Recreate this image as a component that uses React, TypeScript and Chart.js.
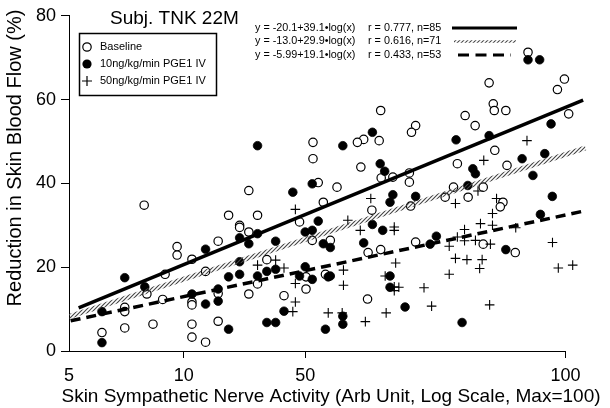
import React, { useEffect, useRef } from 'react';
import { Chart, registerables } from 'chart.js';

Chart.register(...registerables);

// ---------- tick labels ----------
const xTickValues = [5, 10, 20.8, 100];
const xTickLabels = ['5', '10', '50', '100'];
const yTickValues = [0, 20, 40, 60, 80];

// ---------- text ----------
const subjectTitle = 'Subj. TNK 22M';
const xTitle = 'Skin Sympathetic Nerve Activity (Arb Unit, Log Scale, Max=100)';
const yTitle = 'Reduction in Skin Blood Flow (%)';
const seriesLabels = ['Baseline', '10ng/kg/min PGE1 IV', '50ng/kg/min PGE1 IV'];
const equations = ['y = -20.1+39.1\u2022log(x)', 'y = -13.0+29.9\u2022log(x)', 'y = -5.99+19.1\u2022log(x)'];
const rStats = ['r = 0.777, n=85', 'r = 0.616, n=71', 'r = 0.433, n=53'];

// ---------- Baseline (open circles) ----------
const baselineX = [21.8, 21.8, 22.5, 7.87, 14.8, 23.2, 13.1, 15.6, 14.0, 14.0, 14.8, 12.3, 9.6, 9.6, 10.5, 16.5, 20.1, 21.7, 8.93, 11.4,
  23.5, 20.9, 20.9, 15.6, 8.0, 12.3, 14.8, 18.3, 8.8, 10.5, 10.5, 7.0, 7.0, 7.0, 8.3, 10.5, 12.3, 6.1, 10.5, 11.4,
  79.8, 63.1, 99.4, 95.3, 64.7, 65.1, 69.8, 32.8, 54.6, 58.0, 102, 40.5, 39.5, 29.6, 28.5, 32.5, 65.3, 29.1, 52.1, 70.3,
  39.0, 39.0, 35.3, 32.9, 25.2, 50.9, 60.9, 48.4, 55.6, 39.3, 31.1, 68.6, 67.5, 24.2, 40.5, 60.9, 73.9, 30.4, 32.8, 30.3];
const baselineY = [49.8, 45.9, 40.2, 34.8, 38.3, 35.5, 32.4, 32.4, 30.0, 29.5, 28.4, 26.2, 24.9, 22.9, 21.9, 21.8, 30.8, 26.4, 18.3, 19.0,
  18.3, 17.7, 14.8, 16.0, 13.6, 13.7, 13.6, 13.2, 12.3, 11.7, 11.0, 10.4, 9.4, 5.5, 6.4, 6.4, 7.1, 4.4, 3.3, 2.1,
  71.3, 64.0, 64.9, 62.4, 59.0, 57.4, 57.4, 57.4, 56.2, 53.8, 56.6, 53.8, 52.2, 50.5, 49.8, 50.2, 47.9, 43.9, 44.7, 44.3,
  42.5, 40.3, 41.5, 41.3, 39.1, 39.1, 39.1, 36.7, 36.7, 34.6, 33.6, 35.5, 34.4, 26.4, 26.0, 25.5, 23.5, 23.5, 24.2, 12.4];

// ---------- 10ng/kg/min (filled circles) ----------
const pge10X = [15.6, 19.3, 21.7, 22.5, 20.8, 21.7, 14.0, 14.8, 15.6, 17.4, 11.4, 23.2, 7.0, 14.0, 13.1, 14.0, 15.6, 16.5, 17.4, 20.8,
  20.1, 21.7, 23.9, 12.3, 12.3, 10.5, 11.4, 6.1, 18.3, 16.5, 17.4, 13.1, 23.5, 6.1, 7.9,
  79.8, 85.6, 91.7, 63.1, 51.7, 31.2, 26.1, 77.0, 88.3, 82.2, 57.2, 58.1, 32.7, 33.6, 55.5, 35.3, 34.7, 40.5, 92.4, 86.0,
  31.2, 33.2, 29.6, 24.2, 45.9, 44.2, 69.8, 24.2, 34.7, 34.7, 38.0, 26.1, 26.1, 53.6];
const pge10Y = [49.0, 37.9, 39.9, 31.0, 28.4, 28.8, 27.0, 25.6, 28.0, 26.2, 24.3, 25.6, 17.5, 21.3, 17.7, 18.3, 17.9, 19.0, 19.5, 20.1,
  17.9, 17.1, 17.7, 14.8, 11.9, 13.6, 11.2, 9.4, 9.5, 6.8, 6.8, 5.2, 5.2, 2.0, 15.3,
  69.5, 69.5, 54.2, 51.4, 50.4, 52.2, 49.0, 45.9, 47.1, 41.9, 43.5, 42.3, 44.7, 42.9, 39.5, 37.3, 35.5, 36.9, 36.9, 32.6,
  30.2, 28.8, 25.8, 24.7, 27.4, 25.5, 24.2, 17.9, 17.9, 15.2, 10.5, 8.3, 6.4, 6.8];

// ---------- 50ng/kg/min (plus signs) ----------
const pge50X = [19.6, 15.6, 17.4, 18.3, 19.6, 19.6, 19.3, 23.9, 79.3, 61.1, 30.9, 51.5, 59.0, 66.0, 64.4, 26.9, 29.0, 35.6, 35.6, 59.9,
  64.4, 54.4, 74.1, 52.1, 54.4, 49.6, 58.1, 63.6, 51.5, 55.2, 60.5, 59.6, 35.9, 92.5, 95.8, 104.5, 49.6, 26.2, 26.2, 33.7,
  35.6, 36.6, 35.6, 42.6, 44.6, 63.3, 33.9, 26.0, 29.9];
const pge50Y = [33.8, 20.5, 21.7, 19.8, 16.1, 11.7, 9.4, 9.1, 50.2, 45.5, 36.4, 35.2, 38.2, 36.4, 32.8, 31.2, 28.8, 29.6, 28.8, 30.4,
  30.0, 29.0, 29.4, 27.2, 26.3, 25.0, 26.4, 25.5, 22.1, 21.8, 21.8, 19.7, 21.0, 25.9, 19.8, 20.5, 18.3, 19.3, 15.7, 17.9,
  15.3, 15.2, 14.4, 15.1, 10.7, 11.0, 9.1, 9.1, 7.0];

// ---------- regression line end points ----------
const fitBaselineX = [5.3, 111.3];
const fitBaselineY = [10.3, 59.9];
const fitPge10X = [5.0, 112.9];
const fitPge10Y = [8.2, 48.5];
const fitPge50X = [5.05, 111.8];
const fitPge50Y = [7.2, 33.4];

const FONT = "'Liberation Sans', Arial, Helvetica, sans-serif";

const pts = (xs: number[], ys: number[]) => xs.map((x, i) => ({ x, y: ys[i] }));

function makeHatch(ctx: CanvasRenderingContext2D): CanvasPattern | string {
  const c = document.createElement('canvas');
  c.width = 4;
  c.height = 4;
  const g = c.getContext('2d');
  if (!g) return '#777';
  g.strokeStyle = '#444';
  g.lineWidth = 1.1;
  g.beginPath();
  g.moveTo(0, 4); g.lineTo(4, 0);
  g.moveTo(-1, 1); g.lineTo(1, -1);
  g.moveTo(3, 5); g.lineTo(5, 3);
  g.stroke();
  return ctx.createPattern(c, 'repeat') || '#777';
}

export default function App() {
  const ref = useRef<HTMLCanvasElement | null>(null);

  useEffect(() => {
    document.body.style.margin = '0';
    const canvas = ref.current;
    if (!canvas) return;
    const ctx0 = canvas.getContext('2d') as CanvasRenderingContext2D;
    const hatch = makeHatch(ctx0);

    const decor = {
      id: 'decor',
      afterDraw(chart: any) {
        const ctx: CanvasRenderingContext2D = chart.ctx;
        const area = chart.chartArea;
        const xs = chart.scales.x;
        ctx.save();
        // x axis line (only up to 100)
        ctx.strokeStyle = '#000';
        ctx.lineWidth = 1;
        ctx.beginPath();
        ctx.moveTo(area.left, area.bottom + 0.5);
        ctx.lineTo(xs.getPixelForValue(100) + 0.5, area.bottom + 0.5);
        ctx.stroke();

        ctx.fillStyle = '#000';
        // axis titles
        ctx.font = `19px ${FONT}`;
        ctx.textAlign = 'center';
        ctx.textBaseline = 'middle';
        ctx.fillText(xTitle, 331, 397);
        ctx.save();
        ctx.translate(15, 158);
        ctx.rotate(-Math.PI / 2);
        ctx.font = `20px ${FONT}`;
        ctx.fillText(yTitle, 0, 0);
        ctx.restore();

        // subject title
        ctx.font = `19px ${FONT}`;
        ctx.textAlign = 'left';
        ctx.fillText(subjectTitle, 110, 19);

        // legend box
        ctx.lineWidth = 1.5;
        ctx.strokeRect(79.5, 33.5, 137, 62);
        const rows = [47, 64, 81];
        ctx.font = `11px ${FONT}`;
        rows.forEach((ry, i) => {
          ctx.fillText(seriesLabels[i], 100, ry);
        });
        ctx.lineWidth = 1.2;
        ctx.beginPath();
        ctx.arc(87, rows[0], 4.2, 0, Math.PI * 2);
        ctx.fillStyle = '#fff';
        ctx.fill();
        ctx.stroke();
        ctx.fillStyle = '#000';
        ctx.beginPath();
        ctx.arc(87, rows[1], 4.6, 0, Math.PI * 2);
        ctx.fill();
        ctx.beginPath();
        ctx.moveTo(82, rows[2]); ctx.lineTo(92, rows[2]);
        ctx.moveTo(87, rows[2] - 5); ctx.lineTo(87, rows[2] + 5);
        ctx.stroke();

        // regression legend
        const eRows = [28, 41.5, 55];
        ctx.font = `10.8px ${FONT}`;
        eRows.forEach((ry, i) => {
          ctx.fillText(equations[i], 255, ry);
          ctx.fillText(rStats[i], 368, ry);
        });
        ctx.lineCap = 'butt';
        ctx.lineWidth = 3.2;
        ctx.beginPath();
        ctx.moveTo(452, eRows[0]); ctx.lineTo(517, eRows[0]);
        ctx.stroke();
        ctx.strokeStyle = hatch as any;
        ctx.lineWidth = 2.6;
        ctx.beginPath();
        ctx.moveTo(454, eRows[1]); ctx.lineTo(516, eRows[1]);
        ctx.stroke();
        ctx.strokeStyle = '#000';
        ctx.lineWidth = 3.2;
        ctx.setLineDash([11, 6.5]);
        ctx.beginPath();
        ctx.moveTo(458, eRows[2]); ctx.lineTo(511, eRows[2]);
        ctx.stroke();
        ctx.setLineDash([]);
        ctx.restore();
      },
    };

    const chart = new Chart(canvas, {
      type: 'scatter',
      data: {
        datasets: [
          {
            label: 'fit baseline',
            data: pts(fitBaselineX, fitBaselineY),
            showLine: true,
            borderColor: '#000',
            borderWidth: 3.5,
            pointRadius: 0,
          },
          {
            label: 'fit 10',
            data: pts(fitPge10X, fitPge10Y),
            showLine: true,
            borderColor: hatch as any,
            borderWidth: 5,
            pointRadius: 0,
          },
          {
            label: 'fit 50',
            data: pts(fitPge50X, fitPge50Y),
            showLine: true,
            borderColor: '#000',
            borderWidth: 3.5,
            borderDash: [10, 6],
            pointRadius: 0,
          },
          {
            label: seriesLabels[2],
            data: pts(pge50X, pge50Y),
            pointStyle: 'cross',
            pointRadius: 4.8,
            borderColor: '#000',
            borderWidth: 1.1,
          },
          {
            label: seriesLabels[1],
            data: pts(pge10X, pge10Y),
            pointStyle: 'circle',
            pointRadius: 4.3,
            backgroundColor: '#000',
            borderColor: '#000',
            borderWidth: 0.8,
          },
          {
            label: seriesLabels[0],
            data: pts(baselineX, baselineY),
            pointStyle: 'circle',
            pointRadius: 4.2,
            backgroundColor: '#fff',
            borderColor: '#000',
            borderWidth: 1.2,
          },
        ],
      },
      options: {
        animation: false,
        responsive: false,
        devicePixelRatio: 1,
        events: [],
        layout: { padding: { top: 15, right: 20, left: 0, bottom: 0 } },
        plugins: {
          legend: { display: false },
          tooltip: { enabled: false },
          title: { display: false },
        },
        scales: {
          x: {
            type: 'logarithmic',
            min: 5,
            max: 116,
            afterBuildTicks: (s: any) => {
              s.ticks = xTickValues.map((v) => ({ value: v }));
            },
            afterFit: (s: any) => {
              s.height = 57;
            },
            ticks: {
              callback: (_v: any, i: number) => xTickLabels[i] ?? '',
              font: { family: FONT, size: 18 },
              color: '#000',
              padding: 7,
              maxRotation: 0,
              autoSkip: false,
            },
            grid: {
              drawOnChartArea: false,
              drawTicks: true,
              tickLength: 7,
              lineWidth: 1,
              color: (c: any) => (c.index === 0 ? 'rgba(0,0,0,0)' : '#000'),
            },
            border: { display: false },
          },
          y: {
            type: 'linear',
            min: 0,
            max: 80,
            afterBuildTicks: (s: any) => {
              s.ticks = yTickValues.map((v) => ({ value: v }));
            },
            afterFit: (s: any) => {
              s.width = 69;
            },
            ticks: {
              font: { family: FONT, size: 18 },
              color: '#000',
              padding: 5,
            },
            grid: {
              drawOnChartArea: false,
              drawTicks: true,
              tickLength: 8,
              lineWidth: 1,
              color: '#000',
            },
            border: { display: true, color: '#000', width: 1 },
          },
        },
      },
      plugins: [decor],
    } as any);

    return () => chart.destroy();
  }, []);

  return (
    <div style={{ width: 610, height: 408 }}>
      <canvas ref={ref} width={610} height={408} style={{ display: 'block', width: 610, height: 408 }} />
    </div>
  );
}
